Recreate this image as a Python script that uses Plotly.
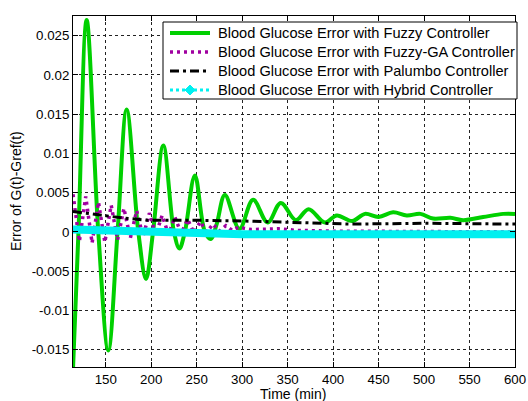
import plotly.graph_objects as go

# ---- data ----
t_fuzzy = [114, 120, 129, 141.8, 152.8, 163, 173, 185.8, 194.3, 202, 213.3, 225, 231, 237,
           248, 259, 265.5, 272, 281, 297, 312, 328, 342.5, 359, 373, 391, 404, 421,
           435, 450, 466, 481, 496, 510, 529, 543, 565, 587, 600]
e_fuzzy = [-0.0175, 0.0, 0.0270, 0.0, -0.0151, 0.0, 0.0156, 0.0, -0.0060, 0.0, 0.0110, 0.0,
           -0.0021, 0.0, 0.0072, 0.0, -0.0009, 0.0010, 0.0047, 0.0004, 0.0041, 0.0012, 0.0037,
           0.0015, 0.0029, 0.0012, 0.0021, 0.0014, 0.0023, 0.0019, 0.0025, 0.0021, 0.0023,
           0.0017, 0.0018, 0.0015, 0.0019, 0.0023, 0.0023]

t_ga = [114, 121, 128, 135, 142, 149, 156, 163, 170, 177, 184, 191, 198, 205, 212, 219,
        226, 233, 240, 247, 254, 261, 268, 275, 282, 289, 296, 310, 340, 360, 400, 500, 600]
e_ga = [0.0048, -0.0012, 0.0045, -0.0014, 0.0038, -0.0013, 0.0034, -0.0010, 0.0030, -0.0008,
        0.0027, -0.0006, 0.0024, -0.0004, 0.0021, -0.0003, 0.0019, -0.0002, 0.0016, -0.0001,
        0.0013, 0.0000, 0.0010, 0.0001, 0.0008, 0.0002, 0.0006, 0.0003, 0.0004, 0.0002,
        0.0001, 0.0000, 0.0000]

t_pal = [114, 133, 147, 169, 195, 240, 300, 350, 420, 500, 600]
e_pal = [0.0026, 0.0023, 0.0021, 0.00178, 0.0015, 0.0015, 0.0014, 0.0012, 0.0010, 0.0011, 0.0010]

t_hyb = [114, 150, 200, 250, 280, 300, 400, 450, 500, 600]
e_hyb = [0.0003, 0.0002, 0.0000, -0.0001, -0.0002, -0.0003, -0.0003, -0.0003, -0.0003, -0.0003]

names = ["Blood Glucose Error with Fuzzy Controller",
         "Blood Glucose Error with Fuzzy-GA Controller",
         "Blood Glucose Error with Palumbo Controller",
         "Blood Glucose Error with Hybrid Controller"]

x_ticks = [150, 200, 250, 300, 350, 400, 450, 500, 550, 600]
y_ticks = [-0.015, -0.01, -0.005, 0, 0.005, 0.01, 0.015, 0.02, 0.025]
y_tick_text = ["-0.015", "-0.01", "-0.005", "0", "0.005", "0.01", "0.015", "0.02", "0.025"]

GREEN = "#00D000"
PURPLE = "#A000A0"
CYAN = "#00F0F0"

W, H = 528, 401
ML, MR, MT, MB = 73, 13, 16, 34
PW, PH = W - ML - MR, H - MT - MB


def px(xp):
    return (xp - ML) / PW


def py(yp):
    return (H - MB - yp) / PH


FONT = "Liberation Sans, Arial, Helvetica, sans-serif"

fig = go.Figure()
fig.add_trace(go.Scatter(x=t_fuzzy, y=e_fuzzy, mode="lines", name=names[0],
                         line=dict(color=GREEN, width=4, shape="spline", smoothing=1.0)))
fig.add_trace(go.Scatter(x=t_ga, y=e_ga, mode="lines", name=names[1],
                         line=dict(color=PURPLE, width=3.5, dash="3px,4px")))
fig.add_trace(go.Scatter(x=t_pal, y=e_pal, mode="lines", name=names[2],
                         line=dict(color="black", width=3, dash="9px,4px,3px,4px")))
fig.add_trace(go.Scatter(x=t_hyb, y=e_hyb, mode="lines", name=names[3],
                         line=dict(color=CYAN, width=8)))

axis_common = dict(showline=True, linecolor="black", linewidth=1, mirror="ticks",
                   ticks="inside", ticklen=5, tickcolor="black", automargin=False,
                   showgrid=True, gridcolor="#222222", gridwidth=1, griddash="3px,3px",
                   zeroline=False, tickfont=dict(size=13.3, color="black", family=FONT))

fig.update_xaxes(range=[114, 600], tickvals=x_ticks, **axis_common)
fig.update_yaxes(range=[-0.0172, 0.0275], tickvals=y_ticks, ticktext=y_tick_text,
                 **axis_common)

# ---- manual legend (box, samples, labels) ----
shapes = [dict(type="rect", xref="paper", yref="paper",
               x0=px(163), x1=px(517), y0=py(99), y1=py(22),
               line=dict(color="black", width=1), fillcolor="white", layer="above")]
row_y = [33, 52, 71, 90]
styles = [dict(color=GREEN, width=4), dict(color=PURPLE, width=3.5, dash="3px,4px"),
          dict(color="black", width=3, dash="9px,4px,3px,4px"),
          dict(color=CYAN, width=3, dash="3px,3px")]
for yy, st in zip(row_y, styles):
    shapes.append(dict(type="line", xref="paper", yref="paper", x0=px(170), x1=px(210),
                       y0=py(yy), y1=py(yy), line=st, layer="above"))
# diamond marker for hybrid sample
cx, cy = 190, row_y[3]
shapes.append(dict(type="path", xref="paper", yref="paper", layer="above",
                   path=f"M {px(cx - 5)},{py(cy)} L {px(cx)},{py(cy - 5)} L {px(cx + 5)},{py(cy)} "
                        f"L {px(cx)},{py(cy + 5)} Z",
                   fillcolor=CYAN, line=dict(color=CYAN, width=1)))

annotations = []
for yy, nm in zip(row_y, names):
    annotations.append(dict(xref="paper", yref="paper", x=px(216), y=py(yy), text=nm,
                            showarrow=False, xanchor="left", yanchor="middle",
                            font=dict(size=14.6, color="black", family=FONT)))
annotations.append(dict(xref="paper", yref="paper", x=px(293), y=py(394), text="Time (min)",
                        showarrow=False, xanchor="center", yanchor="middle",
                        font=dict(size=14, color="black", family=FONT)))
annotations.append(dict(xref="paper", yref="paper", x=px(16), y=py(191),
                        text="Error of G(t)-Gref(t)", textangle=-90,
                        showarrow=False, xanchor="center", yanchor="middle",
                        font=dict(size=14, color="black", family=FONT)))

fig.update_layout(
    width=W, height=H,
    margin=dict(l=ML, r=MR, t=MT, b=MB),
    paper_bgcolor="white", plot_bgcolor="white",
    font=dict(family=FONT, size=14, color="black"),
    showlegend=False,
    shapes=shapes, annotations=annotations,
)

fig.write_html("out.html", config={"displayModeBar": False},
               post_script="document.body.style.margin='0';document.body.style.padding='0';")
